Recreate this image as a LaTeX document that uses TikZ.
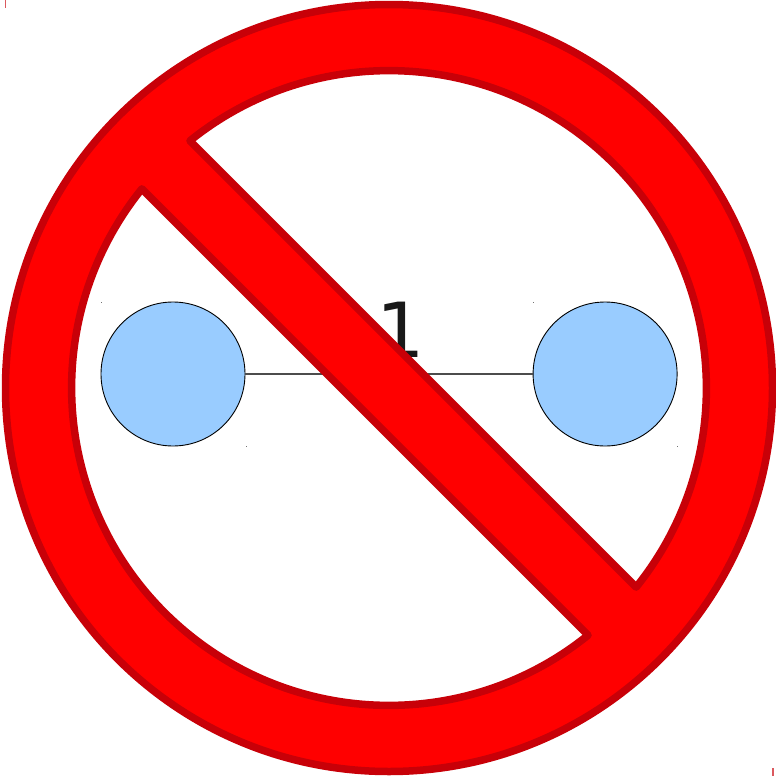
\documentclass[tikz,border=0pt]{standalone}
\usepackage{fontspec}
\setmainfont{DejaVu Sans}
\usetikzlibrary{positioning}
\definecolor{vertexblue}{HTML}{99CCFF}
\definecolor{signred}{HTML}{FF0000}
\definecolor{signdark}{HTML}{C80008}
\tikzset{
    vertex/.style={draw=black, fill=vertexblue, circle, minimum size=144pt, inner sep=0pt, line width=0.9pt},
    edge/.style={draw=black!70, line width=1.1pt},
    % the ring and the bar are one path, with two holes in it
    nosign/.style={fill=signred, draw=signdark, line width=7.5pt, line join=round, even odd rule},
    speck/.style={draw=black!55, line width=0.9pt},
    cropmark/.style={draw=signdark!65, line width=1.5pt},
}
\begin{document}
\begin{tikzpicture}[x=1pt, y=1pt]
    \useasboundingbox (0,0) rectangle (776,-779);

    \node[vertex] (left) at (173,-374) {};
    \node[vertex, right=287.2pt of left] (right) {};
    \node[font=\fontsize{76}{76}\selectfont, text=black!90] (weight) at (401,-329.5) {1};

    \draw[edge] (left) -- (right);

    \draw[speck] (101,-302) -- ++(0.9,0);
    \draw[speck] (246,-446) -- ++(0.9,0);
    \draw[speck] (533,-302) -- ++(0.9,0);
    \draw[speck] (677,-446) -- ++(0.9,0);

    \coordinate (centre) at (389,-388);
    \path[nosign] (centre) circle[radius=383.5pt]
        (centre) ++(-38.86:317.4pt) arc[start angle=-38.86, end angle=128.84, radius=317.4pt] -- cycle
        (centre) ++(141.14:317.4pt) arc[start angle=141.14, end angle=308.84, radius=317.4pt] -- cycle;

    \draw[cropmark] (5.5,0) -- (5.5,-8);
    \draw[cropmark] (773,-768) -- (773,-776);
\end{tikzpicture}
\end{document}
